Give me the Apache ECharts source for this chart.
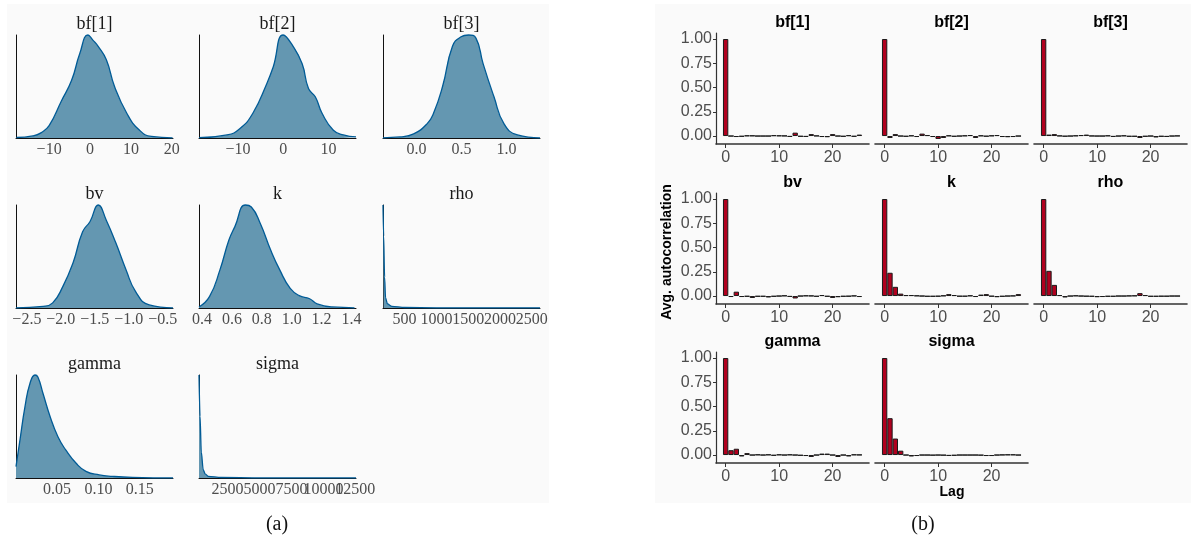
<!DOCTYPE html>
<html>
<head>
<meta charset="utf-8">
<script src="https://cdn.jsdelivr.net/npm/echarts@6/dist/echarts.min.js"></script>
<style>
html, body { margin: 0; padding: 0; background: #fff; }
#main { width: 1193px; height: 543px; }
</style>
</head>
<body>
<div id="main"></div>
<script>
// ---- (a) posterior densities: x positions and relative heights
const bf1X = [-18, -14, -12, -10, -7, -4.5, -2.5, -0.5, 0.7, 2, 4, 6, 9, 12, 15, 20.2];
const bf1Y = [0.005, 0.02, 0.05, 0.12, 0.36, 0.56, 0.82, 1.0, 0.95, 0.89, 0.76, 0.5, 0.24, 0.08, 0.015, 0.002];
const bf2X = [-18.6, -12.4, -9.6, -6.7, -3.6, -2.2, 0, 2.2, 4.2, 5.6, 7.1, 8.6, 11.1, 13.3, 16.1];
const bf2Y = [0.003, 0.03, 0.09, 0.24, 0.53, 0.69, 1.0, 0.89, 0.72, 0.48, 0.40, 0.24, 0.075, 0.03, 0.01];
const bf3X = [-0.37, -0.18, -0.03, 0.12, 0.19, 0.29, 0.40, 0.49, 0.58, 0.66, 0.74, 0.86, 0.97, 1.12, 1.37];
const bf3Y = [0.002, 0.01, 0.04, 0.14, 0.24, 0.50, 0.89, 0.98, 1.0, 0.97, 0.72, 0.40, 0.14, 0.03, 0.002];
const bvX = [-2.66, -2.26, -2.12, -1.97, -1.82, -1.68, -1.57, -1.45, -1.33, -1.19, -1.04, -0.9, -0.7, -0.35];
const bvY = [0.002, 0.016, 0.05, 0.21, 0.44, 0.74, 0.84, 1.0, 0.85, 0.63, 0.37, 0.16, 0.03, 0.002];
const kX = [0.38, 0.45, 0.52, 0.58, 0.62, 0.69, 0.73, 0.79, 0.86, 0.92, 0.99, 1.05, 1.12, 1.17, 1.27, 1.42];
const kY = [0.01, 0.11, 0.37, 0.66, 0.79, 1.0, 0.98, 0.82, 0.56, 0.37, 0.19, 0.12, 0.09, 0.04, 0.01, 0.002];
const rhoX = [160, 170, 185, 200, 230, 300, 500, 1000, 2630];
const rhoY = [1.0, 0.7, 0.3, 0.1, 0.04, 0.015, 0.005, 0.002, 0.001];
const gammaX = [0.0006, 0.0054, 0.0114, 0.0175, 0.0235, 0.027, 0.0332, 0.0416, 0.0512, 0.0608, 0.0729, 0.085, 0.101, 0.117, 0.141, 0.19];
const gammaY = [0.11, 0.37, 0.69, 0.92, 1.0, 0.98, 0.82, 0.6, 0.4, 0.27, 0.145, 0.065, 0.03, 0.016, 0.006, 0.001];
const sigmaX = [270, 350, 450, 600, 750, 1000, 2000, 5000, 12550];
const sigmaY = [1.0, 0.6, 0.25, 0.08, 0.04, 0.015, 0.005, 0.001, 0.0005];

// axis ranges and tick labels
const bf1Range = [-18.1, 20.3];   const bf1Ticks = [-10, 0, 10, 20];
const bf2Range = [-18.6, 16.1];   const bf2Ticks = [-10, 0, 10];
const bf3Range = [-0.37, 1.37];   const bf3Ticks = [0, 0.5, 1.0];
const bvRange = [-2.66, -0.35];   const bvTicks = [-2.5, -2.0, -1.5, -1.0, -0.5];
const kRange = [0.38, 1.43];      const kTicks = [0.4, 0.6, 0.8, 1.0, 1.2, 1.4];
const rhoRange = [160, 2630];     const rhoTicks = [500, 1000, 1500, 2000, 2500];
const gammaRange = [0.0006, 0.19]; const gammaTicks = [0.05, 0.10, 0.15];
const sigmaRange = [270, 12550];  const sigmaTicks = [2500, 5000, 7500, 10000, 12500];

// ---- (b) autocorrelation by lag
const lags = [0, 1, 2, 3, 4, 5, 6, 7, 8, 9, 10, 11, 12, 13, 14, 15, 16, 17, 18, 19, 20, 21, 22, 23, 24, 25];
const acfBf1 = [1.0, 0.0, -0.01, -0.005, 0.005, 0.005, 0, 0, 0, 0.008, 0.005, 0.003, -0.008, 0.035, -0.005, -0.008, 0.02, 0.003, -0.01, -0.012, 0.02, 0, -0.005, 0.008, -0.005, 0.015];
const acfBf2 = [1.0, -0.02, 0.02, 0, -0.005, 0.005, -0.01, 0.025, 0.01, -0.01, -0.03, -0.02, 0.005, -0.005, 0, 0.005, 0.01, -0.02, 0.005, -0.003, 0.005, 0.01, -0.01, -0.012, -0.01, 0];
const acfBf3 = [1.0, 0.015, 0.02, 0.003, -0.003, 0, 0.005, 0.01, 0.015, 0.002, 0, 0, 0.005, -0.008, 0, 0.005, -0.005, -0.005, -0.02, -0.005, 0, -0.015, -0.005, -0.008, 0, 0.003];
const acfBv = [1.0, -0.01, 0.045, -0.01, -0.005, -0.02, -0.005, -0.005, -0.015, -0.005, 0, 0.005, -0.008, -0.025, 0, 0.005, 0.003, -0.005, 0.01, -0.005, -0.02, -0.012, -0.005, -0.003, 0.003, -0.01];
const acfK = [1.0, 0.24, 0.095, 0.025, 0.01, 0.01, 0.005, 0, -0.005, -0.005, -0.003, 0.005, 0.02, 0.01, -0.003, -0.003, 0.005, -0.01, 0.015, 0.02, -0.003, -0.012, -0.005, 0, 0.003, 0.02];
const acfRho = [1.0, 0.26, 0.115, 0.01, -0.015, 0, 0.005, 0, -0.003, -0.005, -0.012, -0.01, -0.005, -0.005, 0, 0, 0.003, 0.005, 0.03, 0.01, -0.005, -0.005, -0.003, -0.003, 0, 0];
const acfGamma = [1.0, 0.05, 0.065, -0.015, 0.02, 0, 0.005, 0, 0.005, -0.005, 0.005, 0, 0.005, 0, -0.005, -0.01, -0.02, 0, 0.015, 0.015, 0, -0.02, 0, -0.015, 0.005, 0.003];
const acfSigma = [1.0, 0.38, 0.17, 0.045, 0, -0.015, -0.01, 0, 0, -0.002, 0, -0.002, -0.008, -0.005, 0, 0, 0, 0, -0.002, -0.01, -0.01, 0, 0.003, 0.005, 0.005, 0];
const acfXRange = [-1.8, 26.8];
const acfYRange = [-0.082, 1.062];
const acfXTicks = [0, 10, 20];
const acfYTicks = [0, 0.25, 0.5, 0.75, 1.0];

const paramNames = ['bf[1]', 'bf[2]', 'bf[3]', 'bv', 'k', 'rho', 'gamma', 'sigma'];

// spike = very skewed density, smoothed monotonically so it does not overshoot
const dens = [
  { x: bf1X, y: bf1Y, range: bf1Range, ticks: bf1Ticks, dec: 0 },
  { x: bf2X, y: bf2Y, range: bf2Range, ticks: bf2Ticks, dec: 0 },
  { x: bf3X, y: bf3Y, range: bf3Range, ticks: bf3Ticks, dec: 1 },
  { x: bvX, y: bvY, range: bvRange, ticks: bvTicks, dec: 1 },
  { x: kX, y: kY, range: kRange, ticks: kTicks, dec: 1 },
  { x: rhoX, y: rhoY, range: rhoRange, ticks: rhoTicks, dec: 0, spike: true },
  { x: gammaX, y: gammaY, range: gammaRange, ticks: gammaTicks, dec: 2 },
  { x: sigmaX, y: sigmaY, range: sigmaRange, ticks: sigmaTicks, dec: 0, spike: true }
];
const acf = [acfBf1, acfBf2, acfBf3, acfBv, acfK, acfRho, acfGamma, acfSigma];

function fmt(v, d) {
  const s = Math.abs(v).toFixed(d);
  return v < 0 ? '\u2212' + s : s;
}

const chart = echarts.init(document.getElementById('main'));

const serif = 'Liberation Serif, Times New Roman, serif';
const sans = 'Liberation Sans, Arial, sans-serif';

// panel layout
const dCols = [16, 199, 383], dW = 157, dRows = [35, 205, 375], dH = 103;
const aCols = [716, 875, 1034], aW = 153, aRows = [33, 193, 352], aH = 111;

const grid = [], xAxis = [], yAxis = [], series = [];
const graphics = [
  { type: 'rect', z: -10, shape: { x: 7, y: 4, width: 542, height: 499 }, style: { fill: '#fafafa' } },
  { type: 'rect', z: -10, shape: { x: 655, y: 4, width: 536, height: 499 }, style: { fill: '#fafafa' } }
];

dens.forEach((p, i) => {
  const col = i % 3, row = Math.floor(i / 3);
  grid.push({ left: dCols[col], top: dRows[row], width: dW, height: dH, outerBoundsMode: 'none' });
  // labels are split over two bottom axes (alternate ticks), so the crowded
  // rho / sigma labels all stay drawn and run into each other as in the figure
  [0, 1].forEach(part => {
    xAxis.push({
      type: 'value', gridIndex: i, position: 'bottom', min: p.range[0], max: p.range[1],
      axisLine: { show: part === 0, onZero: false, lineStyle: { color: '#111', width: 1 } },
      axisTick: { show: false },
      splitLine: { show: false },
      axisLabel: {
        customValues: p.ticks.filter((t, j) => j % 2 === part),
        margin: 4, color: '#4d4d4d', fontFamily: serif, fontSize: 16,
        hideOverlap: false,
        formatter: v => fmt(v, p.dec)
      }
    });
  });
  yAxis.push({
    type: 'value', gridIndex: i, min: 0, max: 1,
    axisLine: { show: true, onZero: false, lineStyle: { color: '#111', width: 1 } },
    axisTick: { show: false }, axisLabel: { show: false }, splitLine: { show: false }
  });
  const s = {
    type: 'line', xAxisIndex: 2 * i, yAxisIndex: i,
    data: p.x.map((x, j) => [x, p.y[j]]),
    smooth: p.spike ? 0.3 : 0.5, showSymbol: false, clip: false,
    lineStyle: { color: '#005b96', width: 1.3 },
    areaStyle: { color: '#6497b1', opacity: 1 }
  };
  if (p.spike) s.smoothMonotone = 'x';
  series.push(s);
  graphics.push({
    type: 'text', x: dCols[col] + dW / 2, y: dRows[row] - 11,
    style: { text: paramNames[i], fill: '#1a1a1a', font: '18px ' + serif, textAlign: 'center', textVerticalAlign: 'middle' }
  });
});

const barW = aW / (acfXRange[1] - acfXRange[0]);
acf.forEach((vals, i) => {
  const col = i % 3, row = Math.floor(i / 3);
  const gi = 8 + i;
  const xi = 16 + i;
  grid.push({ left: aCols[col], top: aRows[row], width: aW, height: aH, outerBoundsMode: 'none' });
  xAxis.push({
    type: 'value', gridIndex: gi, min: acfXRange[0], max: acfXRange[1],
    axisLine: { show: true, onZero: false, lineStyle: { color: '#333', width: 1.6 } },
    axisTick: { show: true, customValues: acfXTicks, length: 4, lineStyle: { color: '#333', width: 1 } },
    splitLine: { show: false },
    axisLabel: { customValues: acfXTicks, margin: 6, color: '#4d4d4d', fontFamily: sans, fontSize: 16 }
  });
  const first = col === 0;
  yAxis.push({
    type: 'value', gridIndex: gi, min: acfYRange[0], max: acfYRange[1],
    axisLine: { show: first, onZero: false, lineStyle: { color: '#333', width: 1.2 } },
    axisTick: { show: first, customValues: acfYTicks, length: 3, lineStyle: { color: '#333', width: 1 } },
    splitLine: { show: false },
    axisLabel: {
      show: first, customValues: acfYTicks, margin: 4, color: '#4d4d4d', fontFamily: sans, fontSize: 16,
      formatter: v => v.toFixed(2)
    }
  });
  series.push({
    type: 'bar', xAxisIndex: xi, yAxisIndex: gi,
    data: lags.map((l, j) => [l, vals[j]]),
    barWidth: barW,
    itemStyle: { color: '#b0001e', borderColor: '#1a1a1a', borderWidth: 1 }
  });
  graphics.push({
    type: 'text', x: aCols[col] + aW / 2, y: aRows[row] - 10,
    style: { text: paramNames[i], fill: '#000', font: 'bold 16px ' + sans, textAlign: 'center', textVerticalAlign: 'middle' }
  });
});

graphics.push(
  { type: 'text', x: 667, y: 252, rotation: Math.PI / 2,
    style: { text: 'Avg. autocorrelation', fill: '#000', font: 'bold 14px ' + sans, textAlign: 'center', textVerticalAlign: 'middle' } },
  { type: 'text', x: 952, y: 492,
    style: { text: 'Lag', fill: '#000', font: 'bold 14px ' + sans, textAlign: 'center', textVerticalAlign: 'middle' } },
  { type: 'text', x: 277, y: 525,
    style: { text: '(a)', fill: '#111', font: '20px ' + serif, textAlign: 'center', textVerticalAlign: 'middle' } },
  { type: 'text', x: 923, y: 525,
    style: { text: '(b)', fill: '#111', font: '20px ' + serif, textAlign: 'center', textVerticalAlign: 'middle' } }
);

chart.setOption({
  animation: false,
  backgroundColor: '#ffffff',
  grid: grid,
  xAxis: xAxis,
  yAxis: yAxis,
  series: series,
  graphic: { elements: graphics }
});
</script>
</body>
</html>
